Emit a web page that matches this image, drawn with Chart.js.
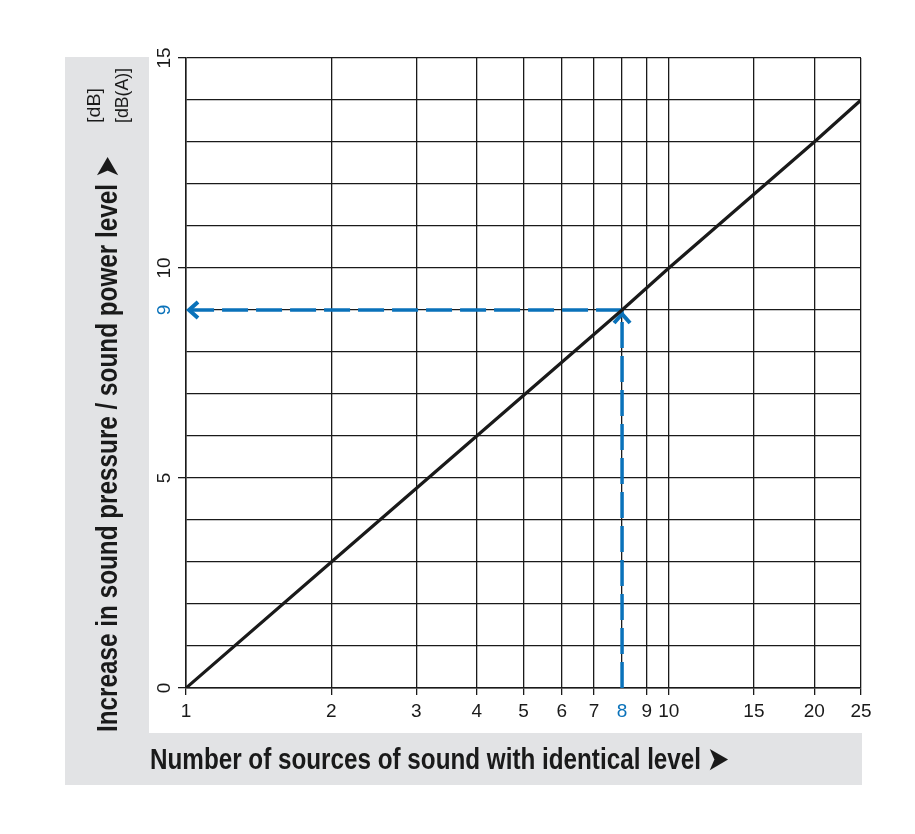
<!DOCTYPE html>
<html>
<head>
<meta charset="utf-8">
<script src="https://cdn.jsdelivr.net/npm/chart.js@4.4.0/dist/chart.umd.min.js"></script>
<style>
  html, body { margin: 0; padding: 0; background: #fff; }
  #chart { display: block; }
</style>
</head>
<body>
<canvas id="chart" width="915" height="834"></canvas>
<script>
// values
const sources = [1, 2, 4, 8, 10, 20, 25];
const levelIncrease = [0, 3, 6, 9, 10, 13, 14];
const xTicks = [1, 2, 3, 4, 5, 6, 7, 8, 9, 10, 15, 20, 25];
const yLabelled = [0, 5, 9, 10, 15];
const exampleSources = 8;
const exampleIncrease = 9;

const xTitle = 'Number of sources of sound with identical level \u27A4';
const yTitle = 'Increase in sound pressure / sound power level \u27A4';
const yUnits = ['[dB]', '[dB(A)]'];

const INK = '#1a1a1a';
const BLUE = '#0a72ba';
const PANEL = '#e2e3e5';
const FONT = "'Liberation Sans', Arial, sans-serif";

// draw text squeezed to a given length (the original uses a condensed face)
function fittedText(ctx, text, x, y, len, rotate) {
    ctx.save();
    ctx.translate(x, y);
    if (rotate) ctx.rotate(-Math.PI / 2);
    let w = ctx.measureText(text).width;
    ctx.scale(len / w, 1);
    ctx.fillText(text, 0, 0);
    ctx.restore();
}

const backdrop = {
    id: 'backdrop',
    beforeDraw(chart) {
        let ctx = chart.ctx, a = chart.chartArea;
        ctx.save();
        ctx.fillStyle = PANEL;
        ctx.fillRect(a.left - 121, a.top - 1, 84, 728);
        ctx.fillRect(a.left - 121, a.bottom + 45, a.right - a.left + 122, 52);
        ctx.restore();
    },
    beforeDatasetsDraw(chart) {
        // arrow heads of the worked example
        let ctx = chart.ctx, x = chart.scales.x, y = chart.scales.y;
        let px = x.getPixelForValue(exampleSources);
        let py = y.getPixelForValue(exampleIncrease);
        let left = x.getPixelForValue(1);
        ctx.save();
        ctx.strokeStyle = BLUE;
        ctx.lineWidth = 4;
        ctx.lineJoin = 'miter';
        ctx.beginPath();
        ctx.moveTo(left + 12, py - 8);
        ctx.lineTo(left + 3, py);
        ctx.lineTo(left + 12, py + 8);
        ctx.stroke();
        ctx.beginPath();
        ctx.moveTo(px - 8, py + 13);
        ctx.lineTo(px, py + 4);
        ctx.lineTo(px + 8, py + 13);
        ctx.stroke();
        ctx.restore();
    },
    afterDraw(chart) {
        let ctx = chart.ctx, a = chart.chartArea;
        ctx.save();
        ctx.fillStyle = INK;
        ctx.textAlign = 'left';
        ctx.textBaseline = 'alphabetic';
        ctx.font = 'bold 30px ' + FONT;
        fittedText(ctx, yTitle, a.left - 69, a.bottom + 44, 575, true);
        fittedText(ctx, xTitle, a.left - 36, a.bottom + 81, 578, false);
        ctx.font = '19px ' + FONT;
        fittedText(ctx, yUnits[0], a.left - 86, a.top + 65, 35, true);
        fittedText(ctx, yUnits[1], a.left - 58, a.top + 65, 55, true);
        ctx.restore();
    }
};

new Chart(document.getElementById('chart'), {
    type: 'line',
    data: {
        datasets: [{
            data: sources.map((s, i) => ({x: s, y: levelIncrease[i]})),
            borderColor: INK,
            borderWidth: 3.2,
            pointRadius: 0
        }, {
            data: [{x: exampleSources, y: exampleIncrease}, {x: 1, y: exampleIncrease}],
            borderColor: BLUE,
            borderWidth: 3.5,
            borderDash: [26, 8],
            pointRadius: 0
        }, {
            data: [{x: exampleSources, y: 0}, {x: exampleSources, y: exampleIncrease}],
            borderColor: BLUE,
            borderWidth: 3.5,
            borderDash: [26, 8],
            pointRadius: 0
        }]
    },
    options: {
        responsive: false,
        animation: false,
        layout: { padding: { left: 65, top: 58, right: 54, bottom: 101 } },
        plugins: { legend: { display: false }, tooltip: { enabled: false } },
        scales: {
            x: {
                type: 'logarithmic',
                min: 1,
                max: 25,
                afterBuildTicks: (scale) => { scale.ticks = xTicks.map(v => ({value: v})); },
                afterFit: (scale) => { scale.height = 45; },
                grid: {
                    color: INK,
                    lineWidth: 1.3,
                    tickLength: 7,
                    tickColor: (c) => c.tick && c.tick.value === exampleSources ? 'rgba(0,0,0,0)' : INK
                },
                border: { color: INK, width: 1.5 },
                ticks: {
                    autoSkip: false,
                    minRotation: 0,
                    maxRotation: 0,
                    padding: 5,
                    font: { family: FONT, size: 19 },
                    color: (c) => c.tick && c.tick.value === exampleSources ? BLUE : INK,
                    callback: (v) => String(v)
                }
            },
            y: {
                min: 0,
                max: 15,
                afterFit: (scale) => { scale.width = 121; },
                grid: {
                    color: INK,
                    lineWidth: 1.3,
                    tickLength: 8,
                    tickColor: (c) => c.tick && c.tick.value % 5 === 0 ? INK : 'rgba(0,0,0,0)'
                },
                border: { color: INK, width: 1.5 },
                ticks: {
                    stepSize: 1,
                    autoSkip: false,
                    minRotation: 90,
                    maxRotation: 90,
                    crossAlign: 'center',
                    padding: 3,
                    font: { family: FONT, size: 19 },
                    color: (c) => c.tick && c.tick.value === exampleIncrease ? BLUE : INK,
                    callback: (v) => yLabelled.includes(v) ? String(v) : ''
                }
            }
        }
    },
    plugins: [backdrop]
});
</script>
</body>
</html>
